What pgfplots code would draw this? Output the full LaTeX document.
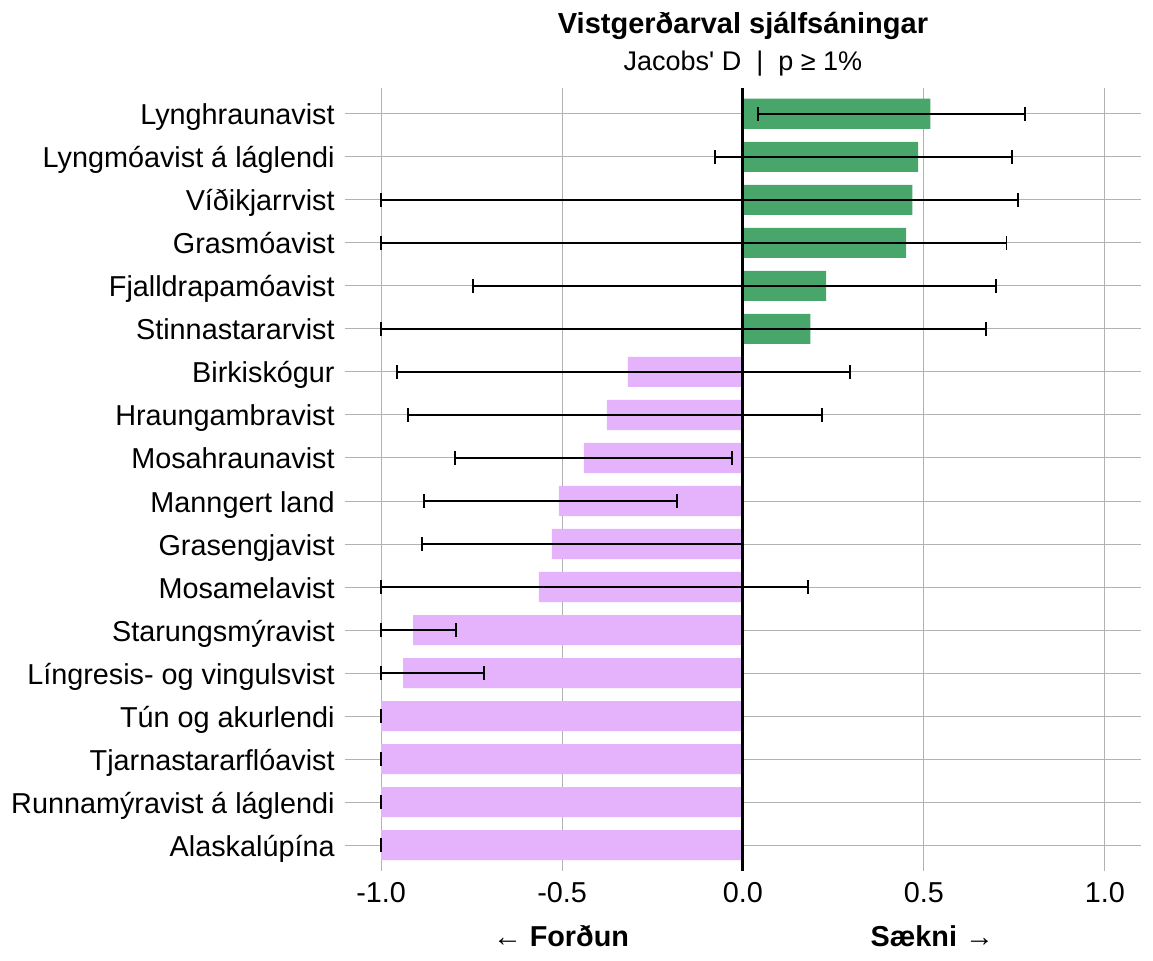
\documentclass[border=0pt]{standalone}
\usepackage{fontspec}
\setmainfont{Liberation Sans}
\usepackage{pgfplots}
\usepackage{pgfplotstable}
\pgfplotsset{compat=1.18}

\definecolor{prefgreen}{RGB}{72,166,107}
\definecolor{avoidpink}{RGB}{229,178,252}
\definecolor{gridgray}{RGB}{178,178,178}

% Jacobs' D per habitat type: estimate d and its interval [lo, hi]
\pgfplotstableread{
idx d     lo     hi
0   0.518  0.041  0.780
1   0.484 -0.078  0.744
2   0.468 -1.000  0.761
3   0.451 -1.000  0.728
4   0.230 -0.746  0.700
5   0.186 -1.000  0.672
}\preferred

\pgfplotstableread{
idx d      lo     hi
6   -0.318 -0.956  0.295
7   -0.376 -0.926  0.219
8   -0.440 -0.796 -0.031
9   -0.509 -0.882 -0.183
10  -0.528 -0.887  0.000
11  -0.564 -1.000  0.179
12  -0.912 -1.000 -0.794
13  -0.939 -1.000 -0.716
14  -1.000 -1.000 -1.000
15  -1.000 -1.000 -1.000
16  -1.000 -1.000 -1.000
17  -1.000 -1.000 -1.000
}\avoided

% interval drawn symmetric about its midpoint so that both caps stay upright,
% even for a degenerate interval
\pgfplotsset{
  interval/.style={
    draw=none, mark=none,
    error bars/.cd, x dir=both, x explicit,
    error bar style={draw=black, line width=0.85pt},
    error mark options={draw=black, line width=0.85pt, mark size=3.4pt, rotate=90}},
}

\begin{document}
\begin{tikzpicture}
\begin{axis}[
  name=ax, at={(0,0)}, anchor=south west,
  scale only axis, width=398pt, height=391.5pt,
  xmin=-1.1, xmax=1.1, ymin=-0.6, ymax=17.6, y dir=reverse,
  xtick={-1,-0.5,0,0.5,1},
  xticklabels={-1.0,-0.5,0.0,0.5,1.0},
  ytick={0,...,17},
  yticklabels={Lynghraunavist, Lyngmóavist á láglendi, Víðikjarrvist, Grasmóavist,
    Fjalldrapamóavist, Stinnastararvist, Birkiskógur, Hraungambravist,
    Mosahraunavist, Manngert land, Grasengjavist, Mosamelavist,
    Starungsmýravist, Língresis- og vingulsvist, Tún og akurlendi,
    Tjarnastararflóavist, Runnamýravist á láglendi, Alaskalúpína},
  axis line style={draw=none},
  major tick length=0pt,
  tick style={draw=none},
  grid=major,
  grid style={gridgray, line width=0.5pt},
  tick label style={font=\fontsize{14.4}{16}\selectfont, text=black},
  yticklabel style={inner sep=0pt, anchor=base east, xshift=-5pt, yshift=-5.5pt},
  xticklabel style={inner sep=0pt, anchor=base, yshift=-16pt},
  clip=false,
]
% bars
\addplot[xbar, bar width=0.7, bar shift=0pt, fill=prefgreen, draw=none]
  table[x=d, y=idx] {\preferred};
\addplot[xbar, bar width=0.7, bar shift=0pt, fill=avoidpink, draw=none]
  table[x=d, y=idx] {\avoided};
% zero reference line
\addplot[black, line width=1.5pt] coordinates {(0,-0.6) (0,17.6)};
% intervals
\addplot[interval]
  table[y=idx,
        x expr={(\thisrow{lo}+\thisrow{hi})/2},
        x error expr={max((\thisrow{hi}-\thisrow{lo})/2,0.0004)}] {\preferred};
\addplot[interval]
  table[y=idx,
        x expr={(\thisrow{lo}+\thisrow{hi})/2},
        x error expr={max((\thisrow{hi}-\thisrow{lo})/2,0.0004)}] {\avoided};
% titles and direction labels
\node[anchor=base, yshift=27pt] at (axis cs:0,-0.6)
  {\fontsize{14.5}{17}\selectfont\bfseries Vistgerðarval sjálfsáningar};
\node[anchor=base, yshift=8.5pt] at (axis cs:0,-0.6)
  {\fontsize{13.5}{16}\selectfont Jacobs\textquotesingle{} D\ \ |\ \ p ≥ 1\%};
\node[anchor=base, yshift=-38pt] at (axis cs:-0.503,17.6)
  {\fontsize{14.4}{16}\selectfont\bfseries ← Forðun};
\node[anchor=base, yshift=-38pt] at (axis cs:0.523,17.6)
  {\fontsize{14.4}{16}\selectfont\bfseries Sækni →};
\end{axis}
\pgfresetboundingbox
\path (-172.5pt,-45pt) rectangle (404pt,435.5pt);
\end{tikzpicture}
\end{document}
